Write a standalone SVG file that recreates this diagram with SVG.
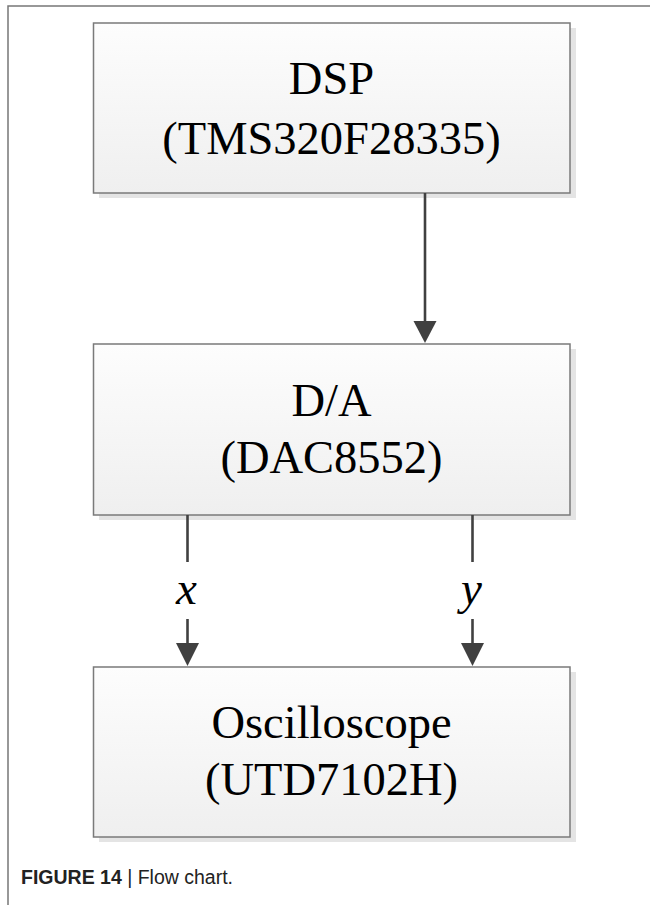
<svg xmlns="http://www.w3.org/2000/svg" width="650" height="905" viewBox="0 0 650 905">
<defs>
<linearGradient id="boxfill" x1="0" y1="0" x2="0" y2="1">
<stop offset="0" stop-color="#fdfdfd"/>
<stop offset="1" stop-color="#efefef"/>
</linearGradient>
<marker id="arrow" viewBox="0 0 24 22" refX="12" refY="22" markerWidth="24" markerHeight="22" markerUnits="userSpaceOnUse" orient="auto-start-reverse">
<path d="M0,0 L24,0 L12,22 Z" fill="#404040"/>
</marker>
<style>
.frame{stroke:#777;stroke-width:1.5;fill:none}
.shadow{fill:#e4e4e4}
.box{fill:url(#boxfill);stroke:#7a7a7a;stroke-width:1.5}
.lbl{font-family:"Liberation Serif","Times New Roman",serif;font-size:46.5px;fill:#000;text-anchor:middle}
.var{font-family:"Liberation Serif","Times New Roman",serif;font-size:47px;font-style:italic;fill:#000;text-anchor:middle}
.conn{stroke:#404040;stroke-width:2.6;fill:none}
.cap{font-family:"Liberation Sans",Arial,sans-serif;font-size:19.5px;fill:#222}
</style>
</defs>
<path class="frame" d="M650,6 H8 V905"/>
<g id="node-dsp">
<rect class="shadow" x="99" y="28" width="477" height="170"/>
<rect class="box" x="93.5" y="23" width="476.5" height="170"/>
<text class="lbl" x="331.5" y="93.5">DSP</text>
<text class="lbl" x="331.5" y="154">(TMS320F28335)</text>
</g>
<g id="node-da">
<rect class="shadow" x="99" y="349" width="477" height="171"/>
<rect class="box" x="93.5" y="344" width="476.5" height="171"/>
<text class="lbl" x="331.5" y="416">D/A</text>
<text class="lbl" x="331.5" y="472.5">(DAC8552)</text>
</g>
<g id="node-osc">
<rect class="shadow" x="99" y="672" width="477" height="170"/>
<rect class="box" x="93.5" y="667" width="476.5" height="170"/>
<text class="lbl" x="331.5" y="737.5">Oscilloscope</text>
<text class="lbl" x="331.5" y="795">(UTD7102H)</text>
</g>
<g id="connectors">
<line class="conn" x1="425" y1="193" x2="425" y2="322" />
<path d="M413.5,321 L436.5,321 L425,343 Z" fill="#404040"/>
<line class="conn" x1="187.5" y1="515" x2="187.5" y2="562"/>
<line class="conn" x1="187.5" y1="619" x2="187.5" y2="645"/>
<path d="M176,643 L199,643 L187.5,666 Z" fill="#404040"/>
<text class="var" x="186.5" y="604">x</text>
<line class="conn" x1="472.5" y1="515" x2="472.5" y2="562"/>
<line class="conn" x1="472.5" y1="619" x2="472.5" y2="645"/>
<path d="M461,643 L484,643 L472.5,666 Z" fill="#404040"/>
<text class="var" x="471.5" y="604">y</text>
</g>
<text class="cap" x="21" y="884"><tspan font-weight="bold">FIGURE 14</tspan> | Flow chart.</text>
</svg>
